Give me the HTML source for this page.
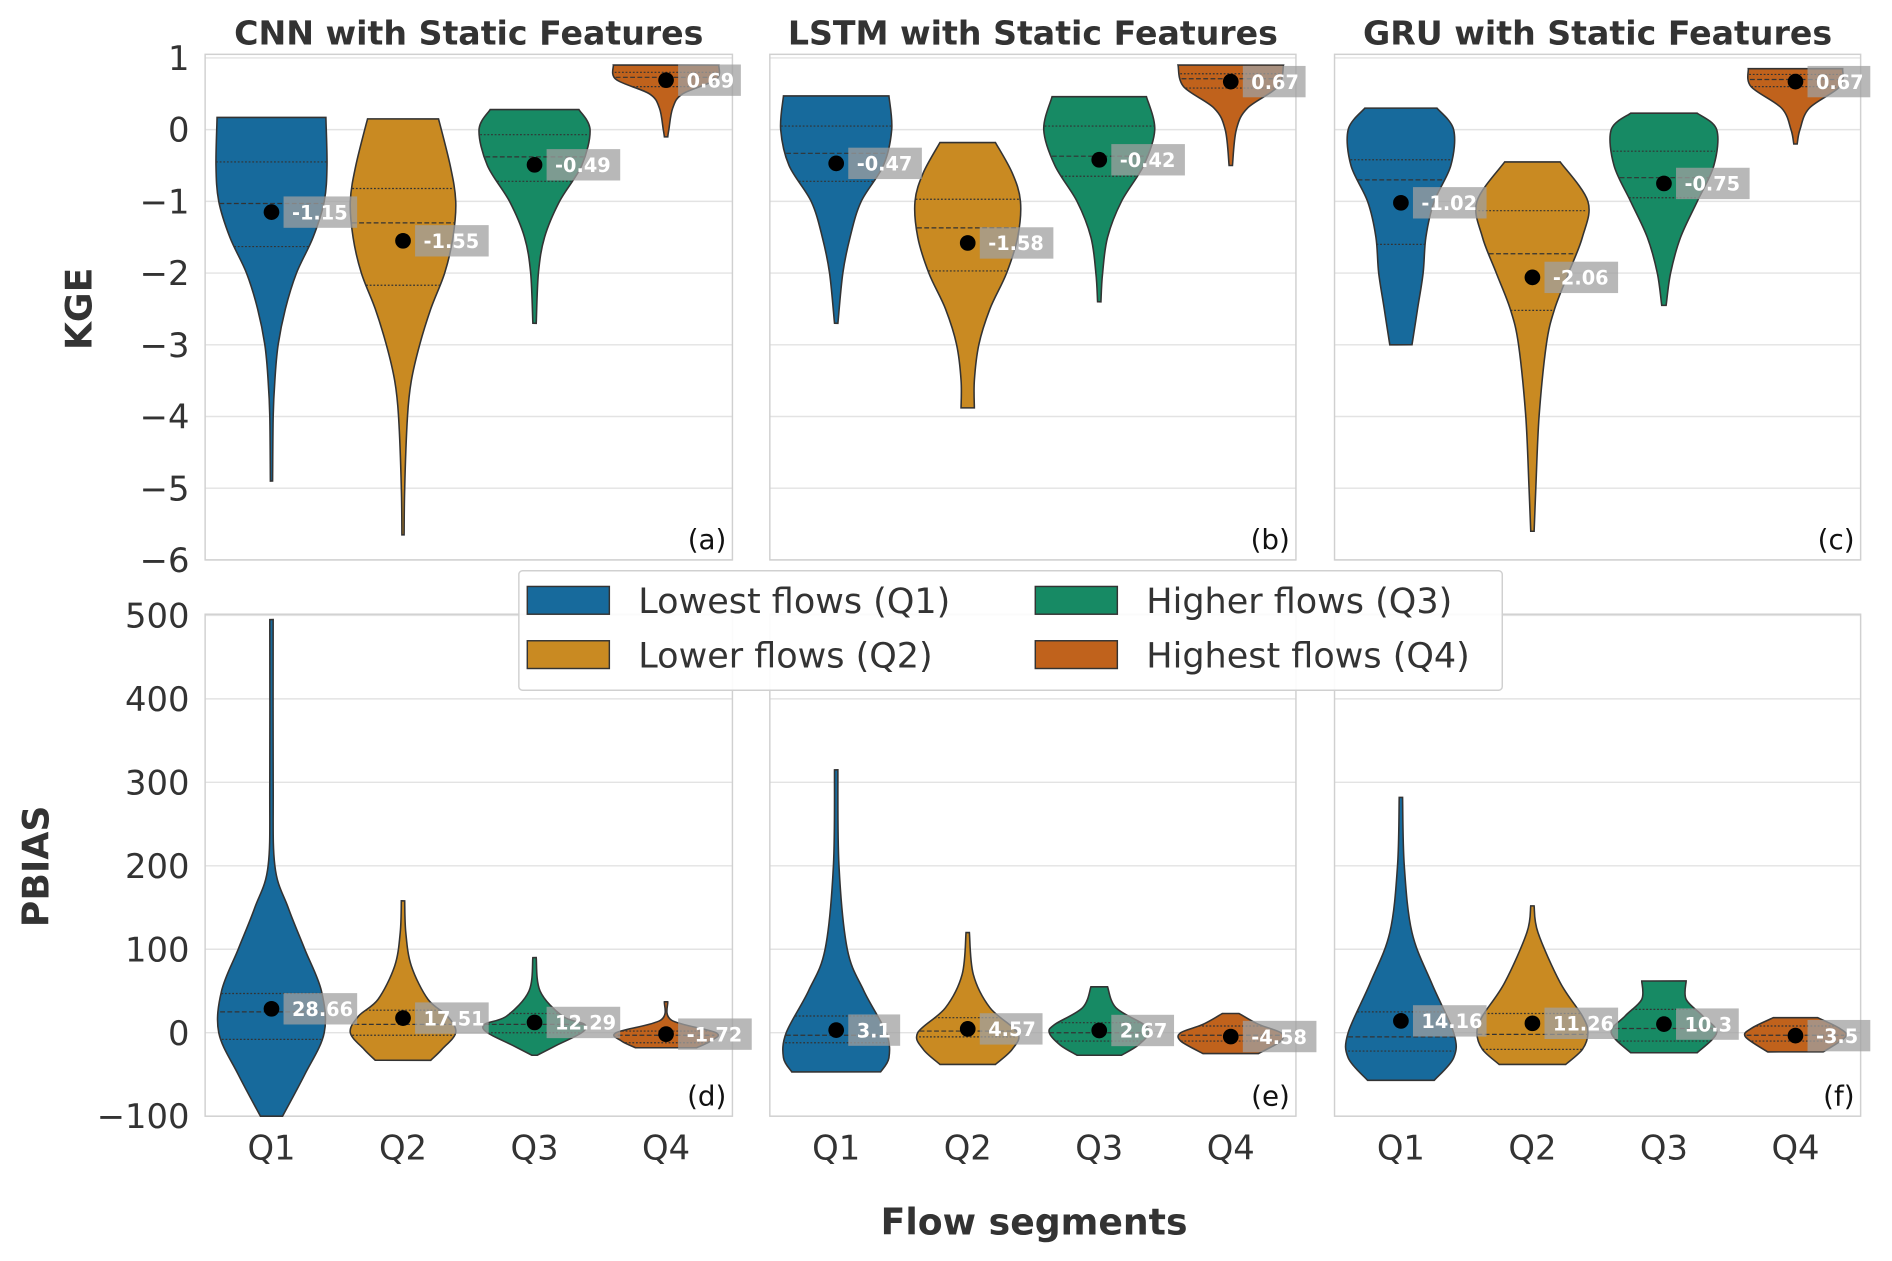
<!DOCTYPE html>
<html><head><meta charset="utf-8"><style>
html,body{margin:0;padding:0;background:#fff;}
svg{display:block;font-family:"DejaVu Sans","Liberation Sans",sans-serif;}
</style></head><body>
<svg id="chart" width="1892" height="1261" viewBox="0 0 1568 1045" xmlns="http://www.w3.org/2000/svg"></svg>
<script>
const categories = ["Q1","Q2","Q3","Q4"];
const panelTitles = ["CNN with Static Features","LSTM with Static Features","GRU with Static Features"];
const panelLetters = ["(a)","(b)","(c)","(d)","(e)","(f)"];
const kgeTicks = [1,0,-1,-2,-3,-4,-5,-6];
const pbiasTicks = [500,400,300,200,100,0,-100];
const legendLabels = ["Lowest flows (Q1)","Lower flows (Q2)","Higher flows (Q3)","Highest flows (Q4)"];
// KGE violin profiles: [value, relative density width]
const kgeProfiles = [
 [[[0.17,0.98],[-0.5,1.0],[-1,0.95],[-1.5,0.75],[-2,0.45],[-2.5,0.25],[-3,0.12],[-3.5,0.06],[-4,0.03],[-4.9,0.02]],
  [[0.15,0.64],[-0.5,0.85],[-1,0.95],[-1.5,0.9],[-2,0.75],[-2.5,0.5],[-3,0.3],[-3.5,0.15],[-4,0.08],[-5,0.03],[-5.65,0.02]],
  [[0.28,0.8],[0,1.0],[-0.5,0.85],[-1,0.45],[-1.5,0.18],[-2,0.07],[-2.7,0.03]],
  [[0.9,0.95],[0.7,0.9],[0.5,0.3],[0.3,0.12],[0,0.05],[-0.1,0.03]]],
 [[[0.47,0.95],[0,1.0],[-0.5,0.85],[-1,0.45],[-1.5,0.25],[-2,0.12],[-2.7,0.03]],
  [[-0.18,0.5],[-0.6,0.8],[-1,0.95],[-1.5,0.9],[-2,0.7],[-2.5,0.4],[-3,0.2],[-3.5,0.12],[-3.88,0.12]],
  [[0.46,0.85],[0,1.0],[-0.5,0.8],[-1,0.4],[-1.5,0.15],[-2,0.06],[-2.4,0.03]],
  [[0.9,0.95],[0.6,0.85],[0.3,0.3],[0,0.1],[-0.5,0.03]]],
 [[[0.3,0.65],[0,0.95],[-0.5,0.9],[-1,0.6],[-1.5,0.45],[-2,0.4],[-2.5,0.3],[-3,0.2]],
  [[-0.45,0.5],[-1,1.0],[-1.5,0.9],[-2,0.65],[-2.5,0.4],[-3,0.25],[-4,0.12],[-5,0.06],[-5.6,0.03]],
  [[0.23,0.6],[0,0.95],[-0.5,0.9],[-1,0.6],[-1.5,0.3],[-2,0.12],[-2.45,0.04]],
  [[0.85,0.85],[0.6,0.8],[0.3,0.25],[0,0.08],[-0.2,0.03]]]
];
const kgeQuartiles = [
 [[-0.45,-1.03,-1.63],[-0.82,-1.3,-2.17],[-0.07,-0.38,-0.72],[0.8,0.73,0.6]],
 [[0.05,-0.33,-0.72],[-0.97,-1.37,-1.97],[0.05,-0.37,-0.65],[0.78,0.71,0.58]],
 [[-0.42,-0.7,-1.6],[-1.13,-1.73,-2.52],[-0.3,-0.67,-0.95],[0.77,0.7,0.6]]
];
const kgeMeans = [[-1.15,-1.55,-0.49,0.69],[-0.47,-1.58,-0.42,0.67],[-1.02,-2.06,-0.75,0.67]];
const pbiasProfiles = [
 [[[495,0.03],[300,0.03],[200,0.06],[150,0.3],[100,0.6],[50,0.9],[0,0.95],[-50,0.6],[-100,0.2]],
  [[158,0.03],[120,0.05],[80,0.15],[40,0.45],[20,0.8],[0,0.95],[-20,0.7],[-33,0.5]],
  [[90,0.03],[50,0.1],[20,0.5],[10,0.9],[0,0.85],[-15,0.4],[-27,0.05]],
  [[37,0.03],[15,0.1],[0,0.9],[-10,0.8],[-18,0.55]]],
 [[[315,0.03],[200,0.05],[100,0.2],[50,0.5],[0,0.9],[-30,0.95],[-47,0.8]],
  [[120,0.03],[70,0.1],[30,0.4],[0,0.9],[-20,0.8],[-38,0.5]],
  [[55,0.15],[30,0.3],[10,0.8],[0,0.9],[-15,0.7],[-27,0.4]],
  [[23,0.15],[10,0.5],[0,0.9],[-10,0.9],[-25,0.5]]],
 [[[282,0.03],[200,0.06],[120,0.2],[60,0.55],[0,0.95],[-30,0.95],[-57,0.6]],
  [[152,0.03],[120,0.1],[60,0.5],[20,0.9],[0,1.0],[-20,0.9],[-38,0.6]],
  [[62,0.4],[40,0.4],[20,0.7],[0,0.95],[-24,0.6]],
  [[18,0.4],[5,0.8],[-5,0.9],[-23,0.5]]]
];
const pbiasQuartiles = [
 [[47,25,-8],[27,10,-3],[23,10,0],[2,-3,-12]],
 [[20,-3,-12],[18,2,-5],[12,0,-10],[8,-3,-10]],
 [[25,-5,-22],[23,-2,-20],[28,5,-10],[8,-3,-10]]
];
const pbiasMeans = [[28.66,17.51,12.29,-1.72],[3.1,4.57,2.67,-4.58],[14.16,11.26,10.3,-3.5]];

const colors = ["#176a9c","#c98a22","#178a64","#c0621c"];
const NS="http://www.w3.org/2000/svg";
const svg=document.getElementById('chart');
function mk(tag,attrs,parent){const e=document.createElementNS(NS,tag);for(const k in attrs)e.setAttribute(k,attrs[k]);(parent||svg).appendChild(e);return e;}
const panelX=[[170,607],[638,1074],[1106,1542]];
const rows=[{top:45,bot:464,ticks:kgeTicks,prof:kgeProfiles,q:kgeQuartiles,m:kgeMeans},
            {top:509,bot:925,ticks:pbiasTicks,prof:pbiasProfiles,q:pbiasQuartiles,m:pbiasMeans}];
function yScale(r,v){ if(r===0) return 48+(1-v)*(464-48)/7; return 925-(v+100)*(925-510)/600; }
function xScale(p,i){ return panelX[p][0]+55+i*109; }
const HW=46;
function widthAt(prof,v){for(let i=0;i<prof.length-1;i++){const a=prof[i],b=prof[i+1];if(v<=a[0]&&v>=b[0]){const t=(a[0]-v)/(a[0]-b[0]);return a[1]+(b[1]-a[1])*t;}}return prof[prof.length-1][1];}
function smooth(pts){let d=`M${pts[0][0]},${pts[0][1]}`;for(let i=0;i<pts.length-1;i++){const p0=pts[i-1]||pts[i],p1=pts[i],p2=pts[i+1],p3=pts[i+2]||p2;
 const c1=[p1[0]+(p2[0]-p0[0])/6,p1[1]+(p2[1]-p0[1])/6],c2=[p2[0]-(p3[0]-p1[0])/6,p2[1]-(p3[1]-p1[1])/6];
 d+=` C${c1[0].toFixed(1)},${c1[1].toFixed(1)} ${c2[0].toFixed(1)},${c2[1].toFixed(1)} ${p2[0].toFixed(1)},${p2[1].toFixed(1)}`;}return d;}
function fmt(v){return String(v).replace('-','−');}

rows.forEach((R,r)=>{
 for(let p=0;p<3;p++){
  const g=mk('g',{});
  
  
  R.ticks.forEach(t=>{const y=yScale(r,t);const l=mk('line',{x1:panelX[p][0],x2:panelX[p][1],y1:y,y2:y,stroke:'#e3e3e3','stroke-width':1.2},g);
   });
  const fr=mk('rect',{x:panelX[p][0],y:R.top,width:panelX[p][1]-panelX[p][0],height:R.bot-R.top,fill:'none',stroke:'#d0d0d0','stroke-width':1.2},g);
  
  for(let i=0;i<4;i++){
   const prof=R.prof[p][i],cx=xScale(p,i);
   const right=prof.map(([v,w])=>[cx+w*HW,yScale(r,v)]);
   const left=prof.slice().reverse().map(([v,w])=>[cx-w*HW,yScale(r,v)]);
   let d=smooth(right)+` L${left[0][0]},${left[0][1]} `+smooth(left).slice(1).replace(/^[^C]*/,'')+' Z';
   const vp=mk('path',{d:d,fill:colors[i],stroke:'#333','stroke-width':1.3},g);
   
   R.q[p][i].forEach((qv,k)=>{const w=widthAt(prof,qv)*HW;const y=yScale(r,qv);
    const ql=mk('line',{x1:cx-w,x2:cx+w,y1:y,y2:y,stroke:'#333','stroke-width':1,'stroke-dasharray':k===1?'4,2':'1.5,1.5'},g);
    });
  }
  for(let i=0;i<4;i++){
   const cx=xScale(p,i),mv=R.m[p][i],y=yScale(r,mv);
   const dot=mk('circle',{cx:cx,cy:y,r:6.5,fill:'#000'},g);
   
   const txt=String(mv);const bw=txt.length*9+16;
   const bx=mk('rect',{x:cx+10,y:y-13,width:bw,height:26,fill:'rgba(160,160,160,0.75)'},g);
   
   const t=mk('text',{x:cx+17,y:y+6,fill:'#fff','font-size':16,'font-weight':'bold'},g);t.textContent=txt;
   
  }
  const lt=mk('text',{x:panelX[p][1]-5,y:R.bot-9,'text-anchor':'end','font-size':23,fill:'#111'},g);lt.textContent=panelLetters[r*3+p];
  
  if(r===0){const tt=mk('text',{x:(panelX[p][0]+panelX[p][1])/2,y:37,'text-anchor':'middle','font-size':27.5,'font-weight':'bold',fill:'#333'});tt.textContent=panelTitles[p];
   }
  if(r===1){categories.forEach((c,i)=>{const xt=mk('text',{x:xScale(p,i),y:961,'text-anchor':'middle','font-size':28,fill:'#333'});xt.textContent=c;
   });}
 }
 R.ticks.forEach(t=>{const yt=mk('text',{x:157,y:yScale(r,t)+10,'text-anchor':'end','font-size':28,fill:'#333'});yt.textContent=fmt(t);
  });
});
let a=mk('text',{x:0,y:0,transform:'translate(76,256) rotate(-90)','text-anchor':'middle','font-size':30,'font-weight':'bold',fill:'#333'});a.textContent='KGE';

a=mk('text',{x:0,y:0,transform:'translate(40,718) rotate(-90)','text-anchor':'middle','font-size':30,'font-weight':'bold',fill:'#333'});a.textContent='PBIAS';

a=mk('text',{x:857,y:1023,'text-anchor':'middle','font-size':30,'font-weight':'bold',fill:'#333'});a.textContent='Flow segments';

const lg=mk('g',{});
mk('rect',{x:430,y:473,width:815,height:99,fill:'#fff','fill-opacity':0.9,stroke:'#d0d0d0','stroke-width':1.2,rx:3},lg);
legendLabels.forEach((l,i)=>{const col=i<2?0:1,row=i%2;const px=col?858:437,py=row?531:486;
 const e=mk('g',{},lg);
 mk('rect',{x:px,y:py,width:68,height:23,fill:colors[i],stroke:'#333','stroke-width':1.2},e);
 const t=mk('text',{x:px+92,y:py+22,'font-size':29,fill:'#333'},e);t.textContent=l;});
</script>
</body></html>
